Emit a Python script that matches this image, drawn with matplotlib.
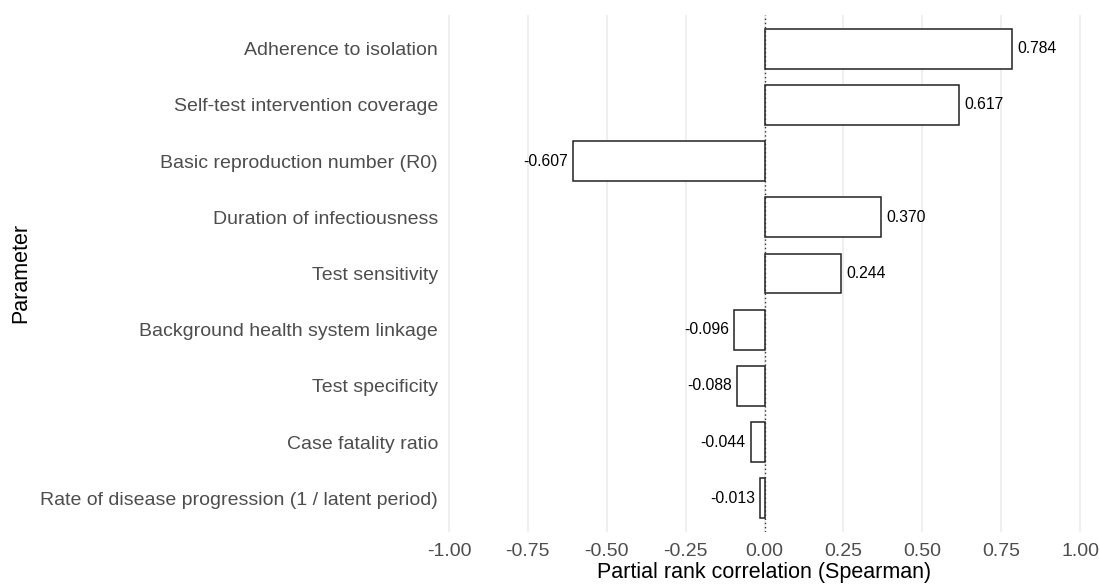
import matplotlib
matplotlib.use("Agg")
import matplotlib.pyplot as plt

params = ["Adherence to isolation",
          "Self-test intervention coverage",
          "Basic reproduction number (R0)",
          "Duration of infectiousness",
          "Test sensitivity",
          "Background health system linkage",
          "Test specificity",
          "Case fatality ratio",
          "Rate of disease progression (1 / latent period)"]
prcc = [0.784, 0.617, -0.607, 0.370, 0.244, -0.096, -0.088, -0.044, -0.013]
xticks = [-1.0, -0.75, -0.5, -0.25, 0.0, 0.25, 0.5, 0.75, 1.0]

plt.rcParams['font.family'] = ['Liberation Sans', 'DejaVu Sans']

fig = plt.figure(figsize=(11, 5.86), dpi=100)
ax = fig.add_axes([439.5 / 1100, 54 / 586, (1089.5 - 439.5) / 1100, (571 - 54) / 586])

ypos = list(range(len(params), 0, -1))
ax.barh(ypos, prcc, height=0.71, color='white', edgecolor='#222222', linewidth=1.1, zorder=3)
ax.axvline(0, color='#333333', linestyle=(0, (1, 2)), linewidth=1.0, zorder=4)

# value labels next to bar ends
for y, v in zip(ypos, prcc):
    if v >= 0:
        ax.text(v + 0.016, y, '%.3f' % v, ha='left', va='center', fontsize=11.3, color='black')
    else:
        ax.text(v - 0.016, y, '%.3f' % v, ha='right', va='center', fontsize=11.3, color='black')

ax.set_xlim(-1.03, 1.03)
ax.set_ylim(0.4, len(params) + 0.6)
ax.set_xticks(xticks)
ax.set_xticklabels(['%.2f' % t for t in xticks])
ax.set_yticks(ypos)
ax.set_yticklabels(params)
ax.grid(axis='x', color='#EBEBEB', linewidth=1.1, zorder=0)
ax.grid(axis='y', visible=False)
ax.tick_params(axis='both', length=0, labelsize=14, labelcolor='#4D4D4D')
ax.tick_params(axis='x', pad=8)
ax.tick_params(axis='y', pad=1)
for s in ax.spines.values():
    s.set_visible(False)

ax.set_xlabel('Partial rank correlation (Spearman)', fontsize=15.5, color='black')
ax.xaxis.set_label_coords(764 / 1100, 24 / 586, transform=fig.transFigure)
ax.set_ylabel('Parameter', fontsize=15.5, color='black')
ax.yaxis.set_label_coords(31 / 1100, (586 - 273) / 586, transform=fig.transFigure)

fig.savefig('out.png', dpi=100)
